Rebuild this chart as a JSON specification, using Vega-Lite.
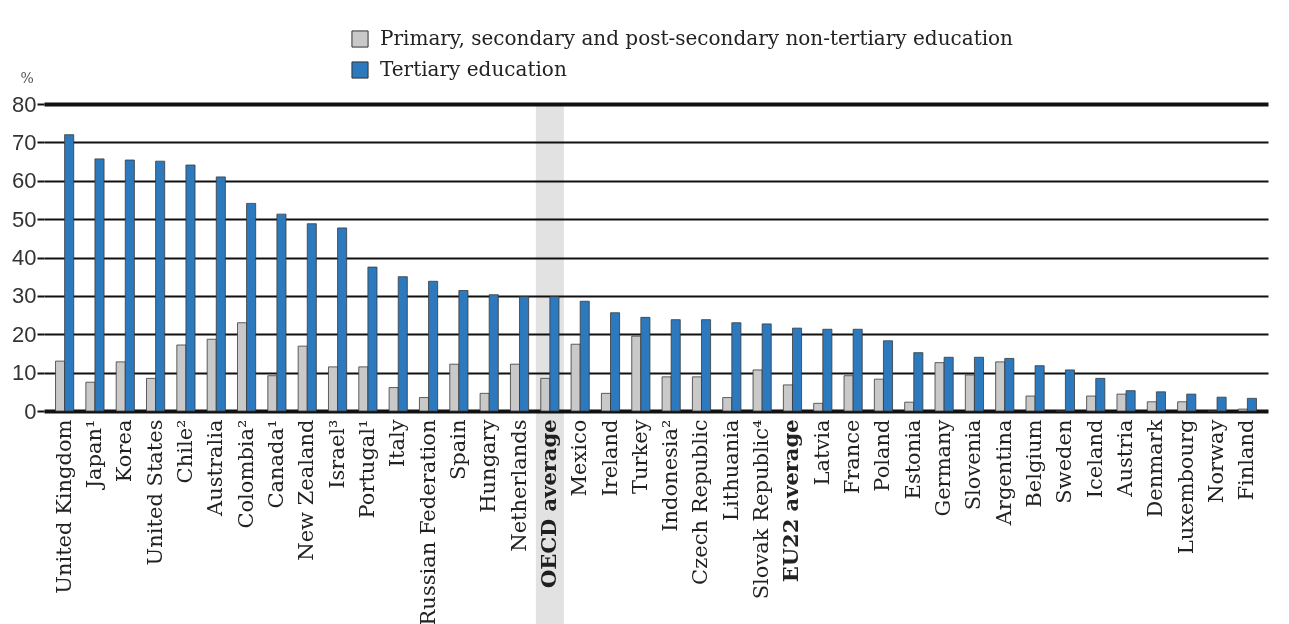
{
  "$schema": "https://vega.github.io/schema/vega-lite/v6.json",
  "width": 1224,
  "height": 307,
  "autosize": "none",
  "padding": {"left": 44, "top": 104, "right": 21, "bottom": 213},
  "background": "white",
  "config": {"view": {"stroke": null}, "font": "DejaVu Serif"},
  "data": {"values": [
    {"country": "United Kingdom", "Primary, secondary and post-secondary non-tertiary education": 13.0, "Tertiary education": 72.0},
    {"country": "Japan¹", "Primary, secondary and post-secondary non-tertiary education": 7.5, "Tertiary education": 65.7},
    {"country": "Korea", "Primary, secondary and post-secondary non-tertiary education": 12.8, "Tertiary education": 65.4},
    {"country": "United States", "Primary, secondary and post-secondary non-tertiary education": 8.5, "Tertiary education": 65.1},
    {"country": "Chile²", "Primary, secondary and post-secondary non-tertiary education": 17.2, "Tertiary education": 64.1},
    {"country": "Australia", "Primary, secondary and post-secondary non-tertiary education": 18.7, "Tertiary education": 61.0},
    {"country": "Colombia²", "Primary, secondary and post-secondary non-tertiary education": 23.0, "Tertiary education": 54.1},
    {"country": "Canada¹", "Primary, secondary and post-secondary non-tertiary education": 9.2, "Tertiary education": 51.3},
    {"country": "New Zealand", "Primary, secondary and post-secondary non-tertiary education": 16.9, "Tertiary education": 48.8},
    {"country": "Israel³", "Primary, secondary and post-secondary non-tertiary education": 11.5, "Tertiary education": 47.7},
    {"country": "Portugal¹", "Primary, secondary and post-secondary non-tertiary education": 11.5, "Tertiary education": 37.5},
    {"country": "Italy", "Primary, secondary and post-secondary non-tertiary education": 6.1, "Tertiary education": 35.0},
    {"country": "Russian Federation", "Primary, secondary and post-secondary non-tertiary education": 3.5, "Tertiary education": 33.8},
    {"country": "Spain", "Primary, secondary and post-secondary non-tertiary education": 12.2, "Tertiary education": 31.4},
    {"country": "Hungary", "Primary, secondary and post-secondary non-tertiary education": 4.6, "Tertiary education": 30.3},
    {"country": "Netherlands", "Primary, secondary and post-secondary non-tertiary education": 12.2, "Tertiary education": 29.8},
    {"country": "OECD average", "Primary, secondary and post-secondary non-tertiary education": 8.5, "Tertiary education": 29.8},
    {"country": "Mexico", "Primary, secondary and post-secondary non-tertiary education": 17.4, "Tertiary education": 28.6},
    {"country": "Ireland", "Primary, secondary and post-secondary non-tertiary education": 4.6, "Tertiary education": 25.6},
    {"country": "Turkey", "Primary, secondary and post-secondary non-tertiary education": 19.5, "Tertiary education": 24.4},
    {"country": "Indonesia²", "Primary, secondary and post-secondary non-tertiary education": 8.9, "Tertiary education": 23.8},
    {"country": "Czech Republic", "Primary, secondary and post-secondary non-tertiary education": 8.9, "Tertiary education": 23.8},
    {"country": "Lithuania", "Primary, secondary and post-secondary non-tertiary education": 3.5, "Tertiary education": 23.0},
    {"country": "Slovak Republic⁴", "Primary, secondary and post-secondary non-tertiary education": 10.7, "Tertiary education": 22.7},
    {"country": "EU22 average", "Primary, secondary and post-secondary non-tertiary education": 6.8, "Tertiary education": 21.6},
    {"country": "Latvia", "Primary, secondary and post-secondary non-tertiary education": 2.0, "Tertiary education": 21.3},
    {"country": "France", "Primary, secondary and post-secondary non-tertiary education": 9.2, "Tertiary education": 21.3},
    {"country": "Poland", "Primary, secondary and post-secondary non-tertiary education": 8.3, "Tertiary education": 18.3},
    {"country": "Estonia", "Primary, secondary and post-secondary non-tertiary education": 2.3, "Tertiary education": 15.2},
    {"country": "Germany", "Primary, secondary and post-secondary non-tertiary education": 12.6, "Tertiary education": 14.0},
    {"country": "Slovenia", "Primary, secondary and post-secondary non-tertiary education": 9.4, "Tertiary education": 14.0},
    {"country": "Argentina", "Primary, secondary and post-secondary non-tertiary education": 12.8, "Tertiary education": 13.7},
    {"country": "Belgium", "Primary, secondary and post-secondary non-tertiary education": 3.9, "Tertiary education": 11.8},
    {"country": "Sweden", "Primary, secondary and post-secondary non-tertiary education": 0, "Tertiary education": 10.7},
    {"country": "Iceland", "Primary, secondary and post-secondary non-tertiary education": 3.9, "Tertiary education": 8.5},
    {"country": "Austria", "Primary, secondary and post-secondary non-tertiary education": 4.4, "Tertiary education": 5.3},
    {"country": "Denmark", "Primary, secondary and post-secondary non-tertiary education": 2.4, "Tertiary education": 5.0},
    {"country": "Luxembourg", "Primary, secondary and post-secondary non-tertiary education": 2.4, "Tertiary education": 4.4},
    {"country": "Norway", "Primary, secondary and post-secondary non-tertiary education": 0, "Tertiary education": 3.6},
    {"country": "Finland", "Primary, secondary and post-secondary non-tertiary education": 0.5, "Tertiary education": 3.3}
  ]},
  "layer": [
    {
      "transform": [{"filter": "datum.country === 'OECD average'"}],
      "mark": {"type": "rule", "color": "#e2e2e2", "strokeWidth": 28, "blend": "multiply"},
      "encoding": {
        "x": {"field": "country", "type": "nominal", "sort": ["United Kingdom","Japan¹","Korea","United States","Chile²","Australia","Colombia²","Canada¹","New Zealand","Israel³","Portugal¹","Italy","Russian Federation","Spain","Hungary","Netherlands","OECD average","Mexico","Ireland","Turkey","Indonesia²","Czech Republic","Lithuania","Slovak Republic⁴","EU22 average","Latvia","France","Poland","Estonia","Germany","Slovenia","Argentina","Belgium","Sweden","Iceland","Austria","Denmark","Luxembourg","Norway","Finland"]},
        "y": {
          "datum": 80, "type": "quantitative",
          "scale": {"domain": [0, 80], "nice": false},
          "axis": {
            "title": "%", "titleAngle": 0, "titleX": -24, "titleY": -26, "titleAlign": "left", "titleBaseline": "middle",
            "titleFont": "DejaVu Serif", "titleFontSize": 14, "titleFontWeight": "normal", "titleColor": "#555",
            "values": [0, 10, 20, 30, 40, 50, 60, 70, 80], "tickCount": 9, "labelOverlap": false,
            "grid": true, "gridColor": "#111",
            "gridWidth": {"condition": {"test": "datum.value === 80 || datum.value === 0", "value": 4}, "value": 2.2},
            "domain": false, "tickColor": "#111", "tickSize": 7, "tickWidth": 2,
            "labelFont": "Liberation Sans", "labelFontSize": 22, "labelColor": "#333", "labelPadding": 1
          }
        },
        "y2": {"datum": -56}
      }
    },
    {
      "transform": [{"fold": ["Primary, secondary and post-secondary non-tertiary education", "Tertiary education"], "as": ["level", "value"]}],
      "mark": {"type": "bar", "stroke": "#3a3a3a", "strokeWidth": 0.8},
      "encoding": {
        "x": {
          "field": "country", "type": "nominal",
          "sort": ["United Kingdom","Japan¹","Korea","United States","Chile²","Australia","Colombia²","Canada¹","New Zealand","Israel³","Portugal¹","Italy","Russian Federation","Spain","Hungary","Netherlands","OECD average","Mexico","Ireland","Turkey","Indonesia²","Czech Republic","Lithuania","Slovak Republic⁴","EU22 average","Latvia","France","Poland","Estonia","Germany","Slovenia","Argentina","Belgium","Sweden","Iceland","Austria","Denmark","Luxembourg","Norway","Finland"],
          "scale": {"paddingInner": 0.4, "paddingOuter": 0.38},
          "axis": {
            "title": null, "labelAngle": -90, "ticks": false, "domain": false,
            "labelFont": "DejaVu Serif", "labelFontSize": 21, "labelColor": "#222",
            "labelPadding": 8, "labelLimit": 300,
            "labelFontWeight": {"condition": {"test": "indexof(datum.value, 'average') >= 0", "value": "bold"}, "value": "normal"}
          }
        },
        "xOffset": {"field": "level", "type": "nominal", "sort": ["Primary, secondary and post-secondary non-tertiary education", "Tertiary education"]},
        "y": {
          "field": "value", "type": "quantitative",
          "scale": {"domain": [0, 80], "nice": false},
          "axis": {
            "title": "%", "titleAngle": 0, "titleX": -24, "titleY": -26, "titleAlign": "left", "titleBaseline": "middle",
            "titleFont": "DejaVu Serif", "titleFontSize": 14, "titleFontWeight": "normal", "titleColor": "#555",
            "values": [0, 10, 20, 30, 40, 50, 60, 70, 80], "tickCount": 9, "labelOverlap": false,
            "grid": true, "gridColor": "#111",
            "gridWidth": {"condition": {"test": "datum.value === 80 || datum.value === 0", "value": 4}, "value": 2.2},
            "domain": false, "tickColor": "#111", "tickSize": 7, "tickWidth": 2,
            "labelFont": "Liberation Sans", "labelFontSize": 22, "labelColor": "#333", "labelPadding": 1
          }
        },
        "color": {
          "field": "level", "type": "nominal",
          "scale": {"domain": ["Primary, secondary and post-secondary non-tertiary education", "Tertiary education"], "range": ["#c9c9c9", "#2d79be"]},
          "legend": {
            "title": null, "orient": "none", "legendX": 306, "legendY": -75,
            "symbolType": "square", "symbolSize": 260, "symbolStrokeColor": "#333", "symbolStrokeWidth": 1,
            "labelFont": "DejaVu Serif", "labelFontSize": 20, "labelColor": "#222", "labelOffset": 10,
            "rowPadding": 9, "labelLimit": 800
          }
        }
      }
    }
  ]
}
